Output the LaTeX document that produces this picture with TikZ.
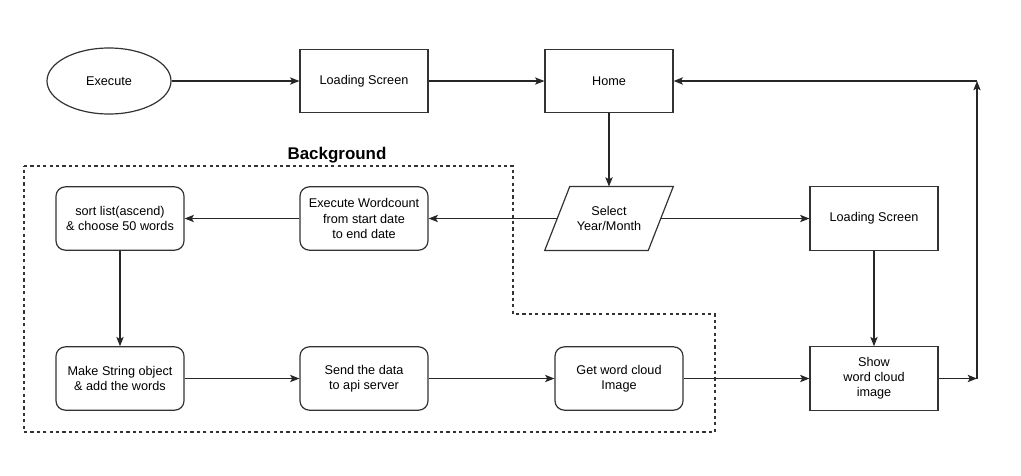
\documentclass[tikz,border=0pt]{standalone}
\usepackage{fontspec}
\setmainfont{Liberation Sans}
\usetikzlibrary{arrows.meta,shapes.geometric}
\begin{document}
\begin{tikzpicture}[x=0.75pt,y=-0.75pt,
  font=\fontsize{9.5}{11.3}\selectfont,
  line/.style={draw=black!85, line width=0.9pt},
  arr/.style={line, -{Stealth[length=7pt,width=5.5pt,inset=1.6pt]}},
  shapeline/.style={draw=black!80, line width=0.9pt},
  box/.style={shapeline, minimum width=96pt, minimum height=47.5pt, align=center, inner sep=1pt},
  rbox/.style={box, rounded corners=7pt},
  parabody/.style={minimum width=96pt, minimum height=47.5pt, align=center, inner sep=1pt},
  oval/.style={shapeline, ellipse, minimum width=93pt, minimum height=49.5pt}
]
\useasboundingbox (0,0) rectangle (1021,475);
% dashed background region
\draw[black!80, line width=0.9pt, dash pattern=on 2.4pt off 2.4pt]
  (24,166) -- (513,166) -- (513,314) -- (715,314) -- (715,432) -- (24,432) -- cycle;
\node[font=\fontsize{12.7}{14}\selectfont\bfseries] (bg) at (337,155) {Background};

\node[oval] (exec) at (109,81) {Execute};
\node[box] (ls1) at (364,81) {Loading Screen};
\node[box] (home) at (609,81) {Home};
\node[parabody] (sel) at (609,218.5) {Select\\Year/Month};
\draw[shapeline] (sel.south west) -- ([xshift=18.75pt]sel.north west) -- (sel.north east) -- ([xshift=-18.75pt]sel.south east) -- cycle;
\coordinate (selL) at ([xshift=9.4pt]sel.west);
\coordinate (selR) at ([xshift=-9.4pt]sel.east);
\node[box] (ls2) at (874,218.5) {Loading Screen};
\node[rbox] (ewc) at (364,218.5) {Execute Wordcount\\from start date\\to end date};
\node[rbox] (sort) at (120,218.5) {sort list(ascend)\\\& choose 50 words};
\node[rbox] (make) at (120,378.5) {Make String object\\\& add the words};
\node[rbox] (send) at (364,378.5) {Send the data\\to api server};
\node[rbox] (get) at (619,378.5) {Get word cloud\\Image};
\node[box] (show) at (874,378.5) {Show\\word cloud\\image};
\coordinate (c1) at (977,378.5);
\coordinate (c2) at (977,81);

\draw[arr] (exec) -- (ls1);
\draw[arr] (ls1) -- (home);
\draw[arr] (home) -- (sel);
\draw[arr] (selL) -- (ewc);
\draw[arr] (ewc) -- (sort);
\draw[arr] (sort) -- (make);
\draw[arr] (make) -- (send);
\draw[arr] (send) -- (get);
\draw[arr] (get) -- (show);
\draw[arr] (selR) -- (ls2);
\draw[arr] (ls2) -- (show);
\draw[arr] (show) -- (c1);
\draw[arr] (c1) -- (c2);
\draw[arr] (c2) -- (home);
\end{tikzpicture}
\end{document}
